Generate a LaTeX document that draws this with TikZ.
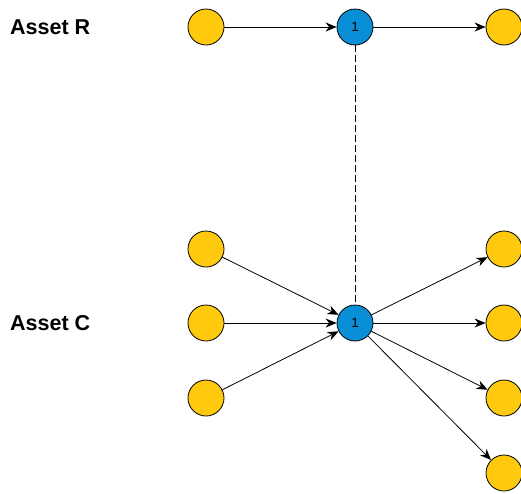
\documentclass[tikz,border=0pt]{standalone}
\usepackage{fontspec}
\setmainfont{Liberation Sans}
\usetikzlibrary{arrows.meta,positioning}
\definecolor{assetyellow}{HTML}{FFC90E}
\definecolor{hubblue}{HTML}{0A8FD6}
\tikzstyle{asset} = [circle,minimum size=36pt,inner sep=0pt,draw=black,
                     fill=assetyellow,line width=0.8pt]
\tikzstyle{hub} = [circle,minimum size=36pt,inner sep=0pt,draw=black,
                   fill=hubblue,line width=0.8pt,font=\fontsize{13.5}{16}\selectfont]
\tikzstyle{arrow} = [line width=0.8pt,-{Stealth[length=11pt,width=9pt,inset=3.5pt]}]
\tikzstyle{title} = [anchor=west,inner sep=0pt,font=\bfseries\fontsize{21.5}{26}\selectfont]

\begin{document}
\begin{tikzpicture}[x=1pt,y=-1pt]
 \useasboundingbox (0,0) rectangle (521,493);
 % asset R row
 \node (TR) [title] at (10,27) {Asset R};
 \node (R1) [asset] at (206,27) {};
 \node (RB) [hub] at (355,27) {1};
 \node (R2) [asset] at (504,27) {};
 % asset C row
 \node (TC) [title] at (10,323) {Asset C};
 \node (C1) [asset] at (206,249) {};
 \node (C2) [asset] at (206,323) {};
 \node (C3) [asset] at (206,398) {};
 \node (CB) [hub] at (355,323) {1};
 \node (D1) [asset] at (504,249) {};
 \node (D2) [asset] at (504,323) {};
 \node (D3) [asset] at (504,398) {};
 \node (D4) [asset] at (504,473) {};
 \draw [arrow] (R1) -- (RB);
 \draw [arrow] (RB) -- (R2);
 \draw [line width=0.8pt,dash pattern=on 7pt off 3pt] (RB) -- (CB);
 \draw [arrow] (C1) -- (CB);
 \draw [arrow] (C2) -- (CB);
 \draw [arrow] (C3) -- (CB);
 \draw [arrow] (CB) -- (D1);
 \draw [arrow] (CB) -- (D2);
 \draw [arrow] (CB) -- (D3);
 \draw [arrow] (CB) -- (D4);
\end{tikzpicture}
\end{document}
